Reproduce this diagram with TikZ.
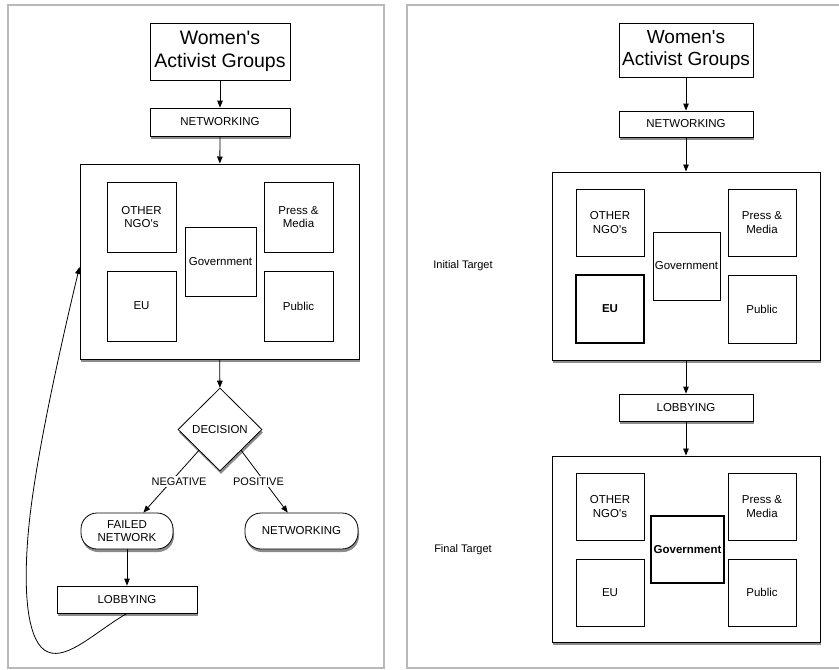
\documentclass[tikz,border=0pt]{standalone}
\usepackage{fontspec}
\setmainfont{Liberation Sans}[Ligatures=TeXOff]
\usetikzlibrary{shapes.geometric,arrows.meta,shadows,calc}
\begin{document}
\begin{tikzpicture}[x=1pt,y=-1pt,
  every node/.style={inner sep=0pt},
  box/.style={draw, line width=0.8pt, fill=white, align=center, font=\fontsize{11.5}{13.5}\selectfont},
  boldbox/.style={box, line width=1.7pt, font=\fontsize{11.5}{13.5}\selectfont\bfseries},
  titlebox/.style={draw, line width=0.8pt, fill=white, align=center, minimum width=140pt, minimum height=57pt, font=\fontsize{19.5}{23}\selectfont},
  shad/.style={drop shadow={shadow xshift=1pt, shadow yshift=-3pt, fill=black, opacity=0.45}},
  sq/.style={box, minimum width=69pt, minimum height=70pt},
  bar/.style={box, shad, minimum width=140pt, minimum height=28pt},
  pill/.style={box, shad, rounded corners=16pt, minimum height=36pt},
  lab/.style={font=\fontsize{11}{13}\selectfont},
  arr/.style={line width=0.8pt, -{Triangle[length=7pt,width=5.5pt]}},
  panel/.style={draw=gray!55, line width=1.3pt}
]
\useasboundingbox (0,0) rectangle (839,670);
\fill[white] (0,0) rectangle (839,670);
% panels
\draw[panel] (8,5) rectangle (384,668);
\draw[panel] (839,5) -- (407,5) -- (407,668) -- (839,668);

% ---------- left panel ----------
\node[titlebox] (wag1) at (220,51.5) {Women's\\Activist Groups};
\node[bar] (net1) at (220,122) {NETWORKING};
\node[box, shad, line width=1pt, minimum width=279pt, minimum height=195pt] (big1) at (219.5,261.5) {};
\node[sq] (ngo1) at (141.5,217) {OTHER\\NGO's};
\node[sq] (press1) at (298.5,217) {Press \&\\Media};
\node[sq, minimum width=71pt, minimum height=69pt] (gov1) at (220.5,261.5) {Government};
\node[sq] (eu1) at (141.5,306) {EU};
\node[sq] (pub1) at (298.5,306) {Public};
\node[box, shad, diamond, minimum width=84pt, minimum height=83pt] (dec) at (220,429.5) {\makebox[0pt]{DECISION}};
\node[pill, minimum width=92pt] (fail) at (127,531) {FAILED\\NETWORK};
\node[pill, minimum width=113pt] (net2) at (301.5,531) {NETWORKING};
\node[bar, minimum height=27pt] (lob1) at (127,599.5) {LOBBYING};
\coordinate (back) at ($(big1.west)+(0,5.5)$);

\draw[arr] (wag1) -- (net1);
\draw[arr] (net1) -- (big1);
\draw[arr] (big1) -- (dec);
\draw[arr] (dec.south west) -- node[lab, fill=white, pos=0.5, xshift=8pt, inner sep=2pt] {NEGATIVE} (fail);
\draw[arr] (dec.south east) -- node[lab, fill=white, pos=0.5, xshift=-6pt, inner sep=2pt] {POSITIVE} (net2);
\draw[arr] (fail) -- (lob1);
\draw[arr] (lob1.south) .. controls (95,632) and (68,660) .. (48,652)
  .. controls (28,644) and (22,595) .. (29,525)
  .. controls (36,455) and (62,340) .. (back);

% ---------- right panel ----------
\node[titlebox, minimum width=134pt, minimum height=54pt, font=\fontsize{19}{22.5}\selectfont] (wag2) at (686,50) {Women's\\Activist Groups};
\node[bar, minimum width=134pt, minimum height=26pt] (net3) at (686,124) {NETWORKING};
\node[box, shad, line width=1pt, minimum width=268pt, minimum height=188pt] (big2) at (686,266) {};
\node[sq, minimum width=68pt, minimum height=67pt] (ngo2) at (610,222.5) {OTHER\\NGO's};
\node[sq, minimum width=68pt, minimum height=67pt] (press2) at (762,222.5) {Press \&\\Media};
\node[sq, minimum width=67pt, minimum height=68pt] (gov2) at (686.5,266) {Government};
\node[boldbox, minimum width=68pt, minimum height=68pt] (eu2) at (610,309) {EU};
\node[sq, minimum width=68pt, minimum height=68pt] (pub2) at (762,309) {Public};
\node[lab] (init) at (463,266) {Initial Target};
\node[bar, minimum width=134pt, minimum height=27pt] (lob2) at (686,407.5) {LOBBYING};
\node[box, shad, line width=1pt, minimum width=268pt, minimum height=186pt] (big3) at (686,549) {};
\node[sq, minimum width=68pt, minimum height=67pt] (ngo3) at (610,506.5) {OTHER\\NGO's};
\node[sq, minimum width=68pt, minimum height=67pt] (press3) at (762,506.5) {Press \&\\Media};
\node[boldbox, minimum width=73pt, minimum height=67pt] (gov3) at (687.5,549.5) {Government};
\node[sq, minimum width=68pt, minimum height=67pt] (eu3) at (610,592.5) {EU};
\node[sq, minimum width=68pt, minimum height=67pt] (pub3) at (762,592.5) {Public};
\node[lab] (final) at (463,550) {Final Target};

\draw[arr] (wag2) -- (net3);
\draw[arr] (net3) -- (big2);
\draw[arr] (big2) -- (lob2);
\draw[arr] (lob2) -- (big3);
\end{tikzpicture}
\end{document}
